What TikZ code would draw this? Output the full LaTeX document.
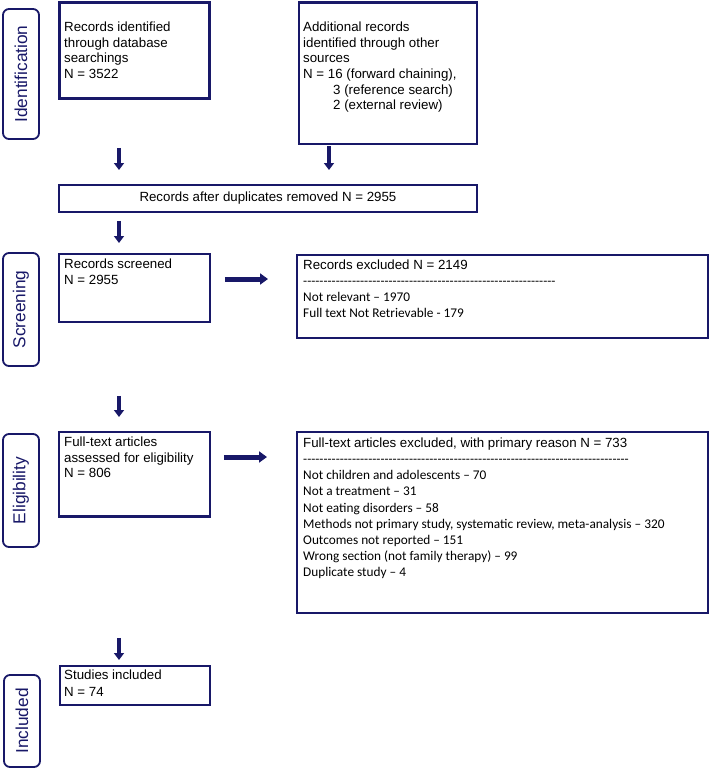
\documentclass[tikz,border=0pt]{standalone}
\usepackage{fontspec}
\setmainfont{Liberation Sans}
\newfontfamily\calibri{Carlito}
\usetikzlibrary{arrows.meta,positioning}
\definecolor{navy}{RGB}{24,24,104}
\newcommand{\dashrule}[1]{\foreach \d in {1,...,#1}{-}}

\tikzset{
  recbox/.style={draw=navy, line width=2.9pt, anchor=north west, inner sep=0pt,
    font=\fontsize{13.3}{15.7}\selectfont},
  rectxt/.style={inner sep=0pt, align=left, font=\fontsize{13.3}{15.7}\selectfont},
  reasontxt/.style={inner sep=0pt, align=left, font=\fontsize{13.3}{16.2}\selectfont\calibri},
  stagelbl/.style={draw=navy, line width=1.8pt, rounded corners=6pt, rotate=90,
    minimum height=36pt, inner sep=0pt, text=navy, font=\fontsize{17.3}{19}\selectfont},
  downarr/.style={draw=navy, line width=3.4pt, -{Triangle[length=7pt,width=10pt]}},
  sidearr/.style={draw=navy, line width=5pt, -{Triangle[length=8pt,width=11pt]}}
}

\begin{document}
\begin{tikzpicture}[x=1pt, y=-1pt]
  \useasboundingbox (0,0) rectangle (709,769);

  % phase labels
  \node[stagelbl, minimum width=130pt] (identlbl) at (21,74) {Identification};
  \node[stagelbl, minimum width=113pt] (screenlbl) at (21,309.5) {Screening};
  \node[stagelbl, minimum width=113pt] (eliglbl) at (21,490.5) {Eligibility};
  \node[stagelbl, minimum width=92pt] (incllbl) at (22,721) {Included};

  % boxes
  \node[recbox, minimum width=150pt, minimum height=96pt] (db) at (58,1) {};
  \node[recbox, minimum width=178pt, minimum height=141.5pt] (other) at (297.5,1) {};
  \node[recbox, minimum width=418pt, minimum height=27pt] (dup) at (57.5,183.5)
    {Records after duplicates removed N = 2955};
  \node[recbox, minimum width=151pt, minimum height=68pt] (screened) at (57.5,252.5) {};
  \node[recbox, minimum width=411pt, minimum height=83pt] (excl1) at (295.5,253.5) {};
  \node[recbox, minimum width=151pt, minimum height=84.5pt] (fulltext) at (57.5,430.5) {};
  \node[recbox, minimum width=411pt, minimum height=181pt] (excl2) at (295.5,430.5) {};
  \node[recbox, minimum width=150pt, minimum height=39pt] (studies) at (58.5,664.5) {};

  % box texts
  \node[rectxt, below right=20.5pt and 6pt of db.north west] (dbtxt)
    {Records identified\\through database\\searchings\\N = 3522};
  \node[rectxt, below right=20.5pt and 5.5pt of other.north west] (othertxt)
    {Additional records\\identified through other\\sources\\N = 16 (forward chaining),\\
     \hspace*{30pt}3 (reference search)\\\hspace*{30pt}2 (external review)};
  \node[rectxt, below right=6pt and 6.5pt of screened.north west] (screenedtxt)
    {Records screened\\N = 2955};
  \node[reasontxt, below right=6pt and 7.5pt of excl1.north west] (excl1txt)
    {{\rmfamily Records excluded N = 2149}\\\dashrule{62}\\
     Not relevant – 1970\\Full text Not Retrievable - 179};
  \node[rectxt, below right=6pt and 6.5pt of fulltext.north west] (fulltexttxt)
    {Full-text articles\\assessed for eligibility\\N = 806};
  \node[reasontxt, below right=7pt and 7.5pt of excl2.north west] (excl2txt)
    {{\rmfamily Full-text articles excluded, with primary reason N = 733}\\\dashrule{80}\\
     Not children and adolescents – 70\\
     Not a treatment – 31\\
     Not eating disorders – 58\\
     Methods not primary study, systematic review, meta-analysis – 320\\
     Outcomes not reported – 151\\
     Wrong section (not family therapy) – 99\\
     Duplicate study – 4};
  \node[rectxt, below right=5.5pt and 5.5pt of studies.north west] (studiestxt)
    {Studies included\\[1pt]N = 74};

  % arrows
  \coordinate (leftlane) at (119,0);
  \coordinate (otherlane) at (329,0);
  \coordinate (row1) at (0,279);
  \coordinate (row2) at (0,457);
  \draw[downarr, shorten <=48pt, shorten >=13.5pt] (db.south -| leftlane) -- (dup.north -| leftlane);
  \draw[downarr, shorten <=1pt, shorten >=13.5pt] (other.south -| otherlane) -- (dup.north -| otherlane);
  \draw[downarr, shorten <=7.5pt, shorten >=9.5pt] (dup.south -| leftlane) -- (screened.north -| leftlane);
  \draw[sidearr, shorten <=13.5pt, shorten >=27.5pt] (screened.east |- row1) -- (excl1.west |- row1);
  \draw[downarr, shorten <=72.5pt, shorten >=13.5pt] (screened.south -| leftlane) -- (fulltext.north -| leftlane);
  \draw[sidearr, shorten <=12.5pt, shorten >=28.5pt] (fulltext.east |- row2) -- (excl2.west |- row2);
  \draw[downarr, shorten <=120pt, shorten >=4.5pt] (fulltext.south -| leftlane) -- (studies.north -| leftlane);
\end{tikzpicture}
\end{document}
